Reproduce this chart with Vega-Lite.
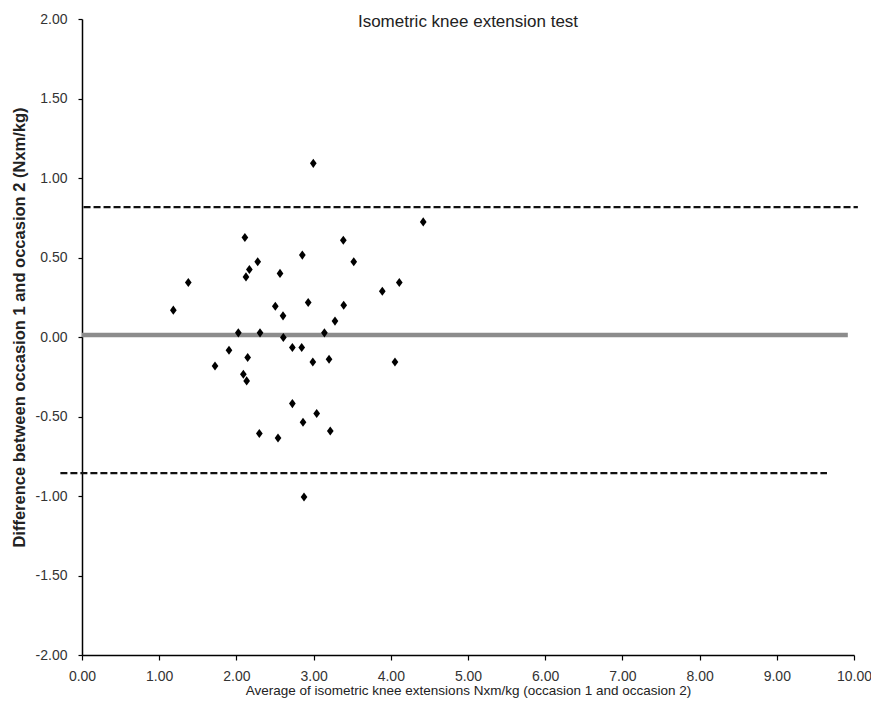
{
  "$schema": "https://vega.github.io/schema/vega-lite/v6.json",
  "autosize": "none",
  "width": 772,
  "height": 636,
  "padding": {"left": 82, "top": 19, "right": 17, "bottom": 56},
  "background": "white",
  "title": {
    "text": "Isometric knee extension test",
    "font": "Liberation Sans, Arial",
    "fontSize": 17,
    "fontWeight": "normal",
    "color": "#222",
    "anchor": "middle",
    "offset": -19
  },
  "config": {
    "view": {"stroke": null},
    "axis": {
      "grid": false,
      "domainColor": "#000",
      "domainWidth": 1.5,
      "tickColor": "#000",
      "tickWidth": 1.2,
      "labelFont": "Liberation Sans, Arial",
      "labelFontSize": 14,
      "labelColor": "#333",
      "titleFont": "Liberation Sans, Arial",
      "titleColor": "#222"
    }
  },
  "datasets": {
    "points": [
      {"avg": 2.996, "diff": 1.092},
      {"avg": 4.42, "diff": 0.724},
      {"avg": 2.11, "diff": 0.626},
      {"avg": 3.385, "diff": 0.609},
      {"avg": 2.854, "diff": 0.515},
      {"avg": 2.276, "diff": 0.473},
      {"avg": 3.52, "diff": 0.473},
      {"avg": 2.168, "diff": 0.425},
      {"avg": 2.124, "diff": 0.378},
      {"avg": 2.565, "diff": 0.40},
      {"avg": 1.377, "diff": 0.343},
      {"avg": 4.11, "diff": 0.343},
      {"avg": 3.89, "diff": 0.288},
      {"avg": 1.183, "diff": 0.169},
      {"avg": 2.504, "diff": 0.194},
      {"avg": 2.93, "diff": 0.217},
      {"avg": 3.39, "diff": 0.20},
      {"avg": 2.604, "diff": 0.133},
      {"avg": 3.277, "diff": 0.10},
      {"avg": 2.025, "diff": 0.026},
      {"avg": 2.306, "diff": 0.026},
      {"avg": 3.14, "diff": 0.026},
      {"avg": 2.608, "diff": -0.003},
      {"avg": 1.904, "diff": -0.083},
      {"avg": 2.725, "diff": -0.066},
      {"avg": 2.846, "diff": -0.066},
      {"avg": 2.146, "diff": -0.129},
      {"avg": 1.723, "diff": -0.182},
      {"avg": 2.99, "diff": -0.157},
      {"avg": 3.20, "diff": -0.140},
      {"avg": 4.054, "diff": -0.157},
      {"avg": 2.09, "diff": -0.234},
      {"avg": 2.133, "diff": -0.276},
      {"avg": 2.725, "diff": -0.419},
      {"avg": 3.04, "diff": -0.481},
      {"avg": 2.863, "diff": -0.536},
      {"avg": 3.216, "diff": -0.591},
      {"avg": 2.297, "diff": -0.607},
      {"avg": 2.539, "diff": -0.635},
      {"avg": 2.876, "diff": -1.006}
    ],
    "limits": [
      {"kind": "upper", "x1": 0.02, "x2": 10.05, "y": 0.817},
      {"kind": "lower", "x1": -0.28, "x2": 9.65, "y": -0.856}
    ],
    "mean": [
      {"x1": 0, "x2": 9.92, "y": 0.012}
    ]
  },
  "layer": [
    {
      "data": {"name": "limits"},
      "mark": {"type": "rule", "color": "#111", "strokeWidth": 2.4, "strokeDash": [7, 3], "clip": false},
      "encoding": {
        "x": {"field": "x1", "type": "quantitative"},
        "x2": {"field": "x2"},
        "y": {"field": "y", "type": "quantitative"}
      }
    },
    {
      "data": {"name": "mean"},
      "mark": {"type": "rule", "color": "#8c8c8c", "strokeWidth": 4.5, "clip": false},
      "encoding": {
        "x": {"field": "x1", "type": "quantitative"},
        "x2": {"field": "x2"},
        "y": {"field": "y", "type": "quantitative"}
      }
    },
    {
      "data": {"name": "points"},
      "mark": {"type": "point", "shape": "M0,-1.15L0.85,0L0,1.15L-0.85,0Z", "filled": true, "color": "#000", "size": 62, "opacity": 1},
      "encoding": {
        "x": {
          "field": "avg",
          "type": "quantitative",
          "scale": {"domain": [0, 10], "nice": false, "zero": false},
          "axis": {
            "values": [0, 1, 2, 3, 4, 5, 6, 7, 8, 9, 10],
            "labelExpr": "replace(format(datum.value, '.2f'), '\u2212', '-')",
            "title": "Average of isometric knee extensions Nxm/kg (occasion 1 and occasion 2)",
            "titleFontSize": 13.5,
            "titleFontWeight": "normal",
            "titlePadding": 0,
            "tickSize": 5,
            "labelPadding": 9,
            "labelFlush": false
          }
        },
        "y": {
          "field": "diff",
          "type": "quantitative",
          "scale": {"domain": [-2, 2], "nice": false, "zero": false},
          "axis": {
            "values": [-2, -1.5, -1, -0.5, 0, 0.5, 1, 1.5, 2],
            "labelExpr": "replace(format(datum.value, '.2f'), '\u2212', '-')",
            "title": "Difference between occasion 1 and occasion 2 (Nxm/kg)",
            "titleFontSize": 16.5,
            "titleFontWeight": "bold",
            "titlePadding": 8,
            "titleY": 308,
            "tickSize": 4,
            "labelPadding": 11,
            "labelFlush": false
          }
        }
      }
    }
  ]
}
